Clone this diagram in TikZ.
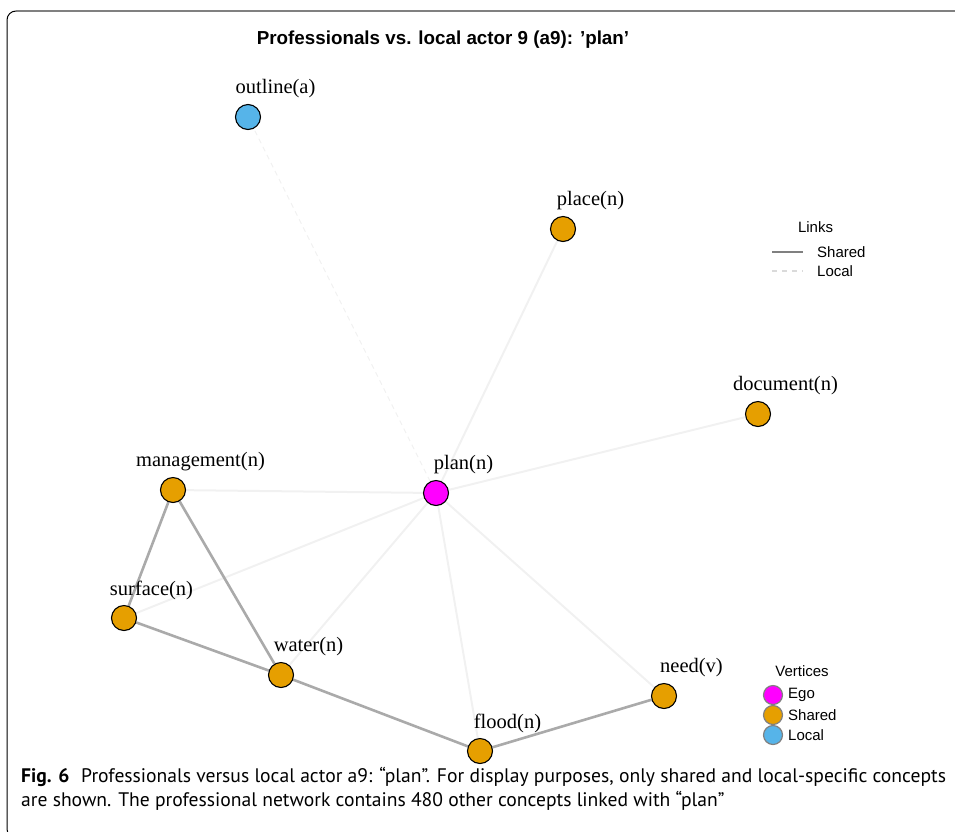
\documentclass[tikz,border=0pt]{standalone}
\usepackage{fontspec}
\setmainfont{Liberation Serif}
\setsansfont{Liberation Sans}
\newfontfamily\capfont{PT Sans}
\usetikzlibrary{backgrounds}
\definecolor{egoc}{HTML}{FF00FF}
\definecolor{sharedc}{HTML}{E69F00}
\definecolor{localc}{HTML}{56B4E9}
\definecolor{sharededge}{HTML}{AAAAAA}
\definecolor{localedge}{HTML}{F1F1F1}
\definecolor{legline}{HTML}{808080}
\tikzset{
  vert/.style={circle, draw=black, line width=1.1pt, minimum size=25pt, inner sep=0pt},
  egov/.style={vert, fill=egoc},
  sharedv/.style={vert, fill=sharedc},
  localv/.style={vert, fill=localc},
  vlabel/.style={font=\fontsize{20.5}{22}\selectfont, inner sep=0pt},
  sharedlink/.style={draw=sharededge, line width=2.6pt},
  locallink/.style={draw=localedge, line width=2pt},
  outlink/.style={draw=localedge, line width=1.1pt, dash pattern=on 5pt off 4pt},
  legtext/.style={font=\sffamily\fontsize{15}{17}\selectfont, inner sep=0pt},
  legv/.style={circle, draw=legline, line width=1.2pt, minimum size=19pt, inner sep=0pt},
  captext/.style={font=\capfont\fontsize{19.6}{22}\selectfont, inner sep=0pt, anchor=west},
}
\begin{document}
\begin{tikzpicture}[x=1pt, y=-1pt]
\useasboundingbox (0,0) rectangle (955,831);
% frame
\draw[draw=legline, line width=1.6pt] (960,11) -- (16,11);
\draw[draw=black, line width=1pt, rounded corners=9pt] (16,11) -- (7,11) -- (7,838) -- (20,838);
% title
\node[font=\sffamily\bfseries\fontsize{18.8}{21}\selectfont, inner sep=0pt] (title) at (443,40) {Professionals vs. local actor 9 (a9): ’plan’};
% vertices
\node[localv] (outline) at (248,117) {};
\node[sharedv] (place) at (563,229) {};
\node[sharedv] (document) at (758,414) {};
\node[egov] (plan) at (436,493) {};
\node[sharedv] (management) at (173,490) {};
\node[sharedv] (surface) at (124,618) {};
\node[sharedv] (water) at (281,675) {};
\node[sharedv] (need) at (664,696) {};
\node[sharedv] (flood) at (480,751) {};
% labels
\node[vlabel] (outlineL) at (275.5,89) {outline(a)};
\node[vlabel] (placeL) at (590.5,201) {place(n)};
\node[vlabel] (documentL) at (785.5,386) {document(n)};
\node[vlabel] (planL) at (463.5,465) {plan(n)};
\node[vlabel] (managementL) at (200.5,462) {management(n)};
\node[vlabel] (surfaceL) at (151.5,590) {surface(n)};
\node[vlabel] (waterL) at (308.5,647) {water(n)};
\node[vlabel] (needL) at (691.5,668) {need(v)};
\node[vlabel] (floodL) at (507.5,723) {flood(n)};
% edges
\begin{scope}[on background layer]
\draw[outlink] (plan) -- (outline);
\draw[locallink] (plan) -- (place);
\draw[locallink] (plan) -- (document);
\draw[locallink] (plan) -- (management);
\draw[locallink] (plan) -- (surface);
\draw[locallink] (plan) -- (water);
\draw[locallink] (plan) -- (flood);
\draw[locallink] (plan) -- (need);
\draw[sharedlink] (management) -- (surface);
\draw[sharedlink] (management) -- (water);
\draw[sharedlink] (surface) -- (water);
\draw[sharedlink] (water) -- (flood);
\draw[sharedlink] (flood) -- (need);
\end{scope}
% links legend
\node[legtext] (linksT) at (815.5,227) {Links};
\coordinate (sl1) at (772,252);
\coordinate (sl2) at (803,252);
\draw[draw=legline, line width=2.8pt] (sl1) -- (sl2);
\node[legtext, anchor=west] (sharedT) at (817,252) {Shared};
\coordinate (ll1) at (772,271);
\coordinate (ll2) at (803,271);
\draw[draw=localedge!80!gray, line width=1.2pt, dash pattern=on 5pt off 5pt] (ll1) -- (ll2);
\node[legtext, anchor=west] (localT) at (817,271) {Local};
% vertices legend
\node[legtext] (vertT) at (802,671) {Vertices};
\node[legv, fill=egoc] (legego) at (773,695) {};
\node[legv, fill=sharedc] (legshared) at (773,715) {};
\node[legv, fill=localc] (leglocal) at (773,735) {};
\node[legtext, anchor=west] (egoT) at (788,695) {Ego};
\node[legtext, anchor=west] (sharedVT) at (788,715) {Shared};
\node[legtext, anchor=west] (localVT) at (788,735) {Local};
% caption
\node[captext] (cap1) at (21,777) {\textbf{Fig. 6}\hspace{0.6em}Professionals versus local actor a9: “plan”. For display purposes, only shared and local-specific concepts};
\node[captext] (cap2) at (21,801) {are shown. The professional network contains 480 other concepts linked with “plan”};
\end{tikzpicture}
\end{document}
